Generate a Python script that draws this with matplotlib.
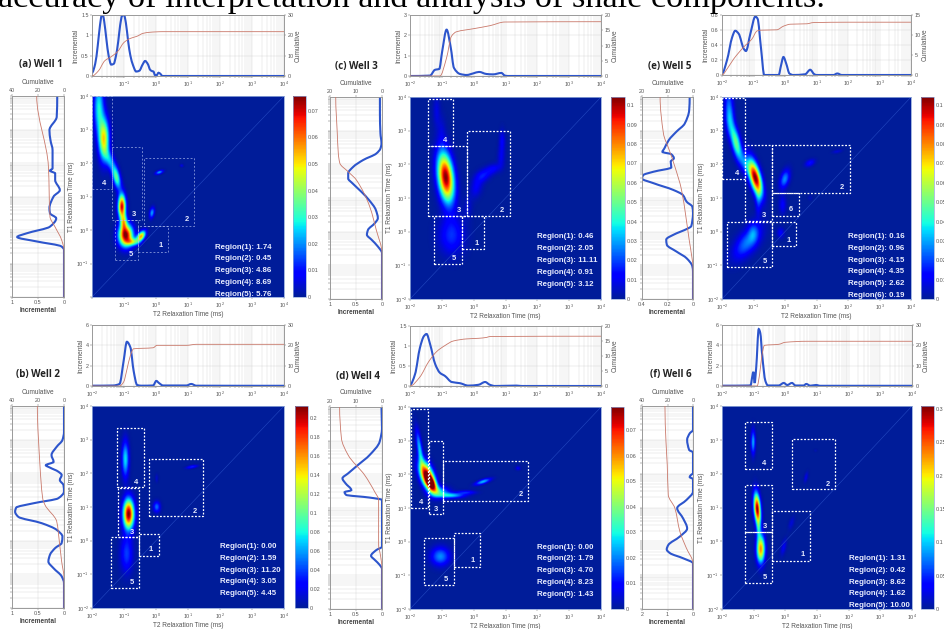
import numpy as np
import matplotlib
matplotlib.use("Agg")
import matplotlib.pyplot as plt
from matplotlib.colors import ListedColormap
from matplotlib.patches import PathPatch, Rectangle
from matplotlib.path import Path

W, H = 944, 629
plt.rcParams["font.family"] = ["Liberation Sans", "DejaVu Sans"]
plt.rcParams["mathtext.default"] = "regular"

caption = "accuracy of interpretation and analysis of shale components."
decades = [-2, -1, 0, 1, 2, 3, 4]

# ====== values ======
# top curves: log10(T2) against incremental / cumulative
a_top_x = [-2, -1.9, -1.82, -1.75, -1.7, -1.66, -1.62, -1.55, -1.48, -1.4, -1.32, -1.25, -1.18, -1.12, -1.06, -1.0, -0.94, -0.87, -0.8, -0.72, -0.62, -0.52, -0.42, -0.34, -0.26, -0.18, -0.12, -0.08, -0.03, 0.02, 0.08, 0.14, 0.2, 4]
a_top_inc = [.08, .3, .75, 1.25, 1.48, 1.5, 1.35, .9, .5, .28, .3, .5, .85, 1.25, 1.48, 1.5, 1.3, .85, .5, .27, .11, .13, .28, .37, .3, .15, .12, .11, .02, .02, .08, .05, 0, 0]
a_cum_x = [-2, -1.8, -1.6, -1.4, -1.2, -1, -0.8, -0.6, -0.4, -0.2, 0, 0.2, 4]
a_cum = [0, 2.5, 7.5, 9.5, 12, 16.5, 18.5, 19.5, 21, 21.5, 21.7, 21.8, 21.8]
c_top_x = [-2, -1.37, -1.22, -1.08, -0.99, -0.85, -0.72, -0.62, -0.43, -0.22, -0.01, 0.17, 0.4, 0.61, 0.87, 0.98, 1.08, 4]
c_top_inc = [0, .02, .3, .35, 1.2, 2.28, 1.4, .4, .1, .05, .13, .2, .1, .08, .15, .02, 0, 0]
c_cum_x = [-2, -1.06, -0.85, -0.7, -0.54, -0.01, 0.51, 0.98, 4]
c_cum = [0, 0, 6, 13, 14.5, 15.5, 16.5, 17.7, 17.8]
e_top_x = [-2, -1.84, -1.68, -1.58, -1.47, -1.31, -1.24, -1.1, -0.94, -0.87, -0.76, -0.66, -0.2, -0.13, -0.05, 0.04, 0.14, 0.26, 0.64, 0.8, 0.93, 1.0, 1.54, 1.66, 1.8, 4]
e_top_inc = [.02, .2, .5, .59, .55, .35, .32, .55, .78, .75, .35, 0, 0, .12, .24, .15, .02, 0, .01, .07, .01, 0, 0, .02, 0, 0]
e_cum_x = [-2, -1.84, -1.63, -1.31, -1.05, -0.89, -0.79, -0.26, -0.05, 0.17, 0.69, 0.9, 2, 4]
e_cum = [0, 1.5, 4, 7, 9, 11, 11.2, 11.3, 12.2, 12.7, 12.8, 13.1, 13.2, 13.2]
b_top_x = [-2, -1.34, -1.14, -1.01, -0.91, -0.8, -0.7, -0.59, -0.45, -0.09, 0.01, 0.09, 0.22, 0.95, 1.1, 1.26, 4]
b_top_inc = [.03, .05, .2, 2.5, 4.35, 3.8, 1.5, .1, .03, .05, .5, .3, .05, .05, .2, .03, .02]
b_cum_x = [-2, -1.14, -1.01, -0.91, -0.8, -0.7, -0.09, 0.03, 0.95, 1.26, 4]
b_cum = [0, 0, 2, 8, 15, 18.3, 18.8, 20, 20, 20.5, 20.5]
d_top_x = [-2, -1.84, -1.69, -1.56, -1.48, -1.37, -1.21, -1.06, -0.9, -0.69, -0.43, -0.17, 0.15, 0.36, 0.51, 0.67, 1.35, 1.5, 4]
d_top_inc = [.03, .3, .95, 1.25, 1.3, 1.05, .55, .33, .25, .1, .07, .01, .03, .1, .03, 0, .01, 0, 0]
d_cum_x = [-2, -1.69, -1.42, -1.16, -0.9, -0.64, -0.22, 0.15, 0.41, 0.51, 4]
d_cum = [0, 3, 8, 11.5, 13.5, 15, 15.7, 15.9, 16.2, 16.5, 16.6]
f_top_x = [-2, -1.1, -1.04, -1.01, -0.97, -0.92, -0.84, -0.79, -0.73, -0.63, -0.55, -0.21, -0.05, 0.06, 0.21, 0.32, 0.58, 0.66, 0.79, 0.97, 1.1, 4]
f_top_inc = [.03, .05, 1.0, 1.4, .3, 1.8, 5.6, 5.2, 3, .5, .05, .05, .3, .1, .3, .05, .05, .2, .03, .1, .02, .02]
f_cum_x = [-2, -0.89, -0.81, -0.74, -0.66, -0.21, 0, 0.68, 4]
f_cum = [0, 0, 6, 15, 20, 20.5, 21.5, 22, 22]

# left curves: log10(T1) against incremental / cumulative
a_left_y = [4, 3.38, 2.98, 2.68, 2.38, 1.99, 1.84, 1.77, 1.69, 1.49, 1.19, 1, 0.65, 0.5, 0.35, 0.1, -0.1, -0.21, -0.34, -0.49, -0.59, -2]
a_left_inc = [.13, .14, .28, .26, .22, .22, .22, .27, .17, .17, .08, .2, .28, .27, .15, .27, .72, .9, .53, .05, 0, 0]
a_side_y = [4, 1.9, 0.4, 0.1, -0.3, -0.6, -2]
a_side = [21, 12, 10.8, 7, 1.8, 0, 0]
c_left_y = [4, 3.51, 2.92, 2.62, 2.47, 2.32, 2.13, 1.93, 1.73, 1.58, 1.44, 1.19, 0.94, 0.65, 0.4, 0.25, 0.05, -0.09, -0.24, -0.44, -0.64, -2]
c_left_inc = [.04, .04, .03, .01, .03, .11, .36, .55, .65, .65, .57, .4, .25, .12, .08, .14, .27, .29, .2, .08, 0, 0]
c_side_y = [4, 2.92, 2.32, 2.03, 1.78, 1.53, 0.74, 0.05, -0.64, -2]
c_side = [17.8, 17.2, 16.8, 16.2, 13, 9.8, 4.7, 2.2, 0, 0]
e_left_y = [4, 3.61, 3.21, 2.97, 2.72, 2.47, 2.37, 2.3, 2.18, 2.08, 1.91, 1.78, 1.68, 1.58, 1.44, 1.24, 1.09, 0.89, 0.74, 0.55, 0.17, 0.05, -0.05, -0.24, -0.39, -0.59, -0.79, -1.03, -1.18, -2]
e_left_inc = [.026, .03, .065, .13, .19, .225, .24, .17, .15, .175, .17, .31, .39, .4, .31, .155, .08, .05, .005, 0, .013, .065, .13, .21, .205, .13, .05, .005, 0, 0]
e_side_y = [4, 2.92, 2.42, 1.93, 1.24, 0.45, -0.24, -0.83, -1.03, -2]
e_side = [12.9, 11.6, 9.3, 7.1, 4.5, 2.8, 1.5, .3, 0, 0]
b_left_y = [4, 3.23, 2.99, 2.79, 2.54, 2.34, 2.24, 2.17, 2.05, 1.95, 1.8, 1.65, 1.46, 1.26, 1.11, 0.98, 0.86, 0.71, 0.52, 0.32, 0.12, -0.07, -0.22, -0.42, -0.62, -0.82, -1.06, -1.26, -2]
b_left_inc = [0, 0, .03, .14, .24, .2, .35, .27, .11, .045, .08, .01, 0, .11, .59, .92, .94, .88, .43, .14, .03, .045, .17, .27, .3, .2, .045, 0, 0]
b_side_y = [4, 2.24, 1.26, 1.06, 0.57, -0.02, -0.62, -1.11, -2]
b_side = [20.5, 18.5, 16.4, 14.6, 5.6, 3.6, 1.8, 0, 0]
d_left_y = [4, 3.37, 2.97, 2.57, 2.28, 2.03, 1.88, 1.73, 1.53, 1.47, 1.39, 1.31, 1.24, -0.15, -0.25, -0.42, -0.54, -0.69, -0.81, -2]
d_left_inc = [.01, 0, .045, .24, .46, .65, .76, .7, .59, .72, .69, .24, 0, 0, .11, .21, .14, .045, 0, 0]
d_side_y = [4, 3.07, 2.57, 1.98, 1.48, 1.24, -0.1, -0.4, -0.8, -2]
d_side = [16.3, 15.6, 13, 6.7, 2.8, 1.3, 1.3, .6, 0, 0]
f_left_y = [4, 3.29, 3.19, 3, 2.7, 2.63, 2.01, 1.96, 1.9, 1.84, 1.47, 1.22, 0.98, 0.68, 0.38, 0.14, -0.11, -0.24, -0.35, -0.5, -0.65, -2]
f_left_inc = [0, 0, .13, .23, .15, 0, 0, .08, .13, 0, 0, .26, .62, .39, .23, .52, .97, 1.03, .9, .39, 0, 0]
f_side_y = [4, 2.95, 2.26, 1.37, 0.98, 0.29, -0.2, -0.65, -2]
f_side = [22, 21.2, 20.2, 19.4, 14.2, 10.3, 5.2, 0, 0]

# T2-T1 maps, estimated peaks: log T2, log T1, spread T2, spread T1, tilt, height
a_peaks = [(-.94, -.14, .11, .2, 0, .0756), (-.46, -.17, .07, .1, .5, .055), (-.72, -.34, .1, .07, 0, .03),
           (-1.06, .72, .06, .22, 0, .07), (-1, .25, .05, .15, 0, .035), (-1.23, 1.59, .07, .22, -.5, .035),
           (-1.44, 2.1, .08, .2, -.5, .02), (-1.62, 2.73, .08, .38, 0, .05), (-1.78, 3.67, .08, .5, 0, .028),
           (.11, 1.74, .06, .04, .5, .022), (-.12, .53, .04, .1, .3, .022), (.81, 1.94, .03, .03, 0, .006)]
c_peaks = [(-.87, 1.63, .13, .45, -.3, .104), (-.69, -.09, .2, .35, 0, .018), (-.17, .74, .07, .2, 0, .006),
           (.09, 1.34, .1, .2, .3, .011), (.3, 1.68, .12, .12, .3, .014), (.61, 1.88, .12, .1, .3, .012),
           (.87, 2.22, .06, .2, 0, .009), (.9, 2.72, .05, .2, 0, .011), (-1.16, 3.6, .06, .3, 0, .008), (-1, 3, .07, .3, 0, .006)]
e_peaks = [(-.94, 1.63, .11, .32, -.6, .104), (-1.55, 2.67, .1, .35, -.65, .05), (-1.79, 3.9, .07, .4, 0, .016),
           (-1.74, 3.4, .07, .3, 0, .02), (-1.26, 2.03, .08, .2, -.5, .018), (-.84, .95, .05, .3, 0, .015),
           (0, 1.58, .08, .17, .4, .028), (.8, 2.06, .08, .07, .4, .015), (1.66, 2.4, .08, .04, .4, .007),
           (-.07, .82, .06, .17, 0, .012), (.8, 1.02, .04, .05, 0, .004), (-.13, -.02, .06, .1, 0, .012),
           (-1.19, -.3, .22, .3, .6, .026), (-1, 0, .08, .2, 0, .014)]
b_peaks = [(-.85, .81, .085, .27, 0, .213), (-.95, 2.44, .055, .33, 0, .075), (-.91, -.37, .1, .35, 0, .04),
           (.03, 1.02, .055, .1, 0, .05), (1.13, 2.21, .09, .035, .5, .035), (.03, 1.87, .025, .08, 0, .012)]
d_peaks = [(-1.46, 1.98, .12, .25, -.5, .079), (-1.32, 1.73, .09, .15, -.5, .06), (-1.69, 2.77, .06, .35, -.7, .025),
           (-.69, 1.39, .2, .05, 0, .025), (-1.06, 1.49, .15, .1, 0, .025), (.3, 1.8, .12, .06, .7, .025),
           (-.22, 1.48, .15, .04, 0, .012), (1.4, 2.2, .04, .04, 0, .008), (-1.04, -.42, .15, .17, 0, .021)]
f_peaks = [(-.88, .98, .055, .28, -.3, .3), (-.77, -.21, .065, .25, 0, .23), (-.84, .38, .035, .2, 0, .07),
           (-1.01, 2.95, .035, .22, 0, .09), (.66, 1.91, .035, .1, .5, .025), (.96, 2.7, .03, .03, 0, .008),
           (.2, .56, .05, .12, .5, .02), (-.05, -.16, .05, .15, .5, .03)]

# regions: number, log T2 from/to, log T1 from/to, label position
a_boxes = [("4", -2, -1.38, 1.22, 4, -1.61, 1.39), ("3", -1.38, -.45, .3, 2.48, -.68, .47), ("2", -.36, 1.2, .13, 2.16, .95, .32),
           ("1", -.56, .37, -.66, .13, .13, -.47), ("5", -1.28, -.56, -.9, .3, -.8, -.72)]
c_boxes = [("4", -1.45, -.66, 2.55, 3.95, -.91, 2.7), ("3", -1.43, -.21, .47, 2.55, -.45, .63), ("2", -.21, 1.14, .47, 2.98, .9, .63),
           ("1", -.37, .34, -.51, .47, .1, -.34), ("5", -1.24, -.37, -.96, .47, -.61, -.79)]
e_boxes = [("4", -2, -1.27, 1.55, 3.98, -1.52, 1.73), ("3", -1.27, -.41, .32, 2.57, -.66, .47), ("2", -.41, 2.07, 1.16, 2.57, 1.82, 1.32),
           ("6", -.41, .46, .48, 1.16, .2, .67), ("1", -.41, .35, -.44, .3, .12, -.26), ("5", -1.84, -.41, -1.06, .3, -.64, -.9)]
b_boxes = [("4", -1.22, -.375, 1.58, 3.36, -.61, 1.73), ("3", -1.18, -.52, .1, 1.55, -.76, .24), ("2", -.23, 1.46, .72, 2.43, 1.21, .88),
           ("1", -.52, .09, -.46, .21, -.16, -.27), ("5", -1.41, -.52, -1.41, .1, -.76, -1.23)]
d_boxes = [("4", -1.98, -1.42, 1.01, 3.95, -1.64, 1.16), ("3", -1.4, -.96, .81, 2.99, -1.2, .97), ("2", -.96, 1.72, 1.22, 2.4, 1.48, 1.39),
           ("1", -.62, .2, -.76, .27, -.04, -.57), ("5", -1.55, -.62, -1.29, .1, -.86, -1.11)]
f_boxes = [("4", -1.27, -.41, 2.14, 3.52, -.66, 2.31), ("3", -1.27, -.41, .29, 1.67, -.66, .45), ("2", .2, 1.58, 1.55, 3.03, 1.34, 1.69),
           ("1", -.41, .78, -.58, .91, .54, -.38), ("5", -1.27, -.41, -1.23, .29, -.66, -1.06)]

a_regions = ["1.74", "0.45", "4.86", "8.69", "5.76"]
c_regions = ["0.46", "2.05", "11.11", "0.91", "3.12"]
e_regions = ["0.16", "0.96", "4.15", "4.35", "2.62", "0.19"]
b_regions = ["0.00", "1.59", "11.20", "3.05", "4.45"]
d_regions = ["0.00", "1.79", "4.70", "8.23", "1.43"]
f_regions = ["1.31", "0.42", "8.62", "1.62", "10.00"]

# ====== layout: pixel boxes and axis settings per panel ======
panels = [
    dict(title="(a) Well 1", tx=41, ty=65, heat=(92, 96, 284, 297), cb=(293, 306), top=(15, 76), left=(12, 64),
         inc_top=(1.5, [0, .5, 1, 1.5], ["0", "0.5", "1", "1.5"]), cum_top=(30, [0, 10, 20, 30]),
         inc_left=(1, [1, .5, 0], ["1", "0.5", "0"]), cum_left=(40, [40, 20, 0]),
         vmax=.0756, cticks=[0, .01, .02, .03, .04, .05, .06, .07], thin=True, skip=True, text_x=1.85, text_y=-.51,
         top_x=a_top_x, top_inc=a_top_inc, cum_x=a_cum_x, cum=a_cum, left_y=a_left_y, left_inc=a_left_inc,
         side_y=a_side_y, side=a_side, peaks=a_peaks, boxes=a_boxes, regions=a_regions),
    dict(title="(c) Well 3", tx=356, ty=67, heat=(410, 97, 601, 299), cb=(611, 625), top=(15, 76), left=(330, 382),
         inc_top=(3, [0, 1, 2, 3], ["0", "1", "2", "3"]), cum_top=(20, [0, 5, 10, 15, 20]),
         inc_left=(1, [1, .5, 0], ["1", "0.5", "0"]), cum_left=(20, [20, 10, 0]),
         vmax=.1043, cticks=[0, .01, .02, .03, .04, .05, .06, .07, .08, .09, .1], thin=False, skip=False, text_x=2, text_y=-.15,
         top_x=c_top_x, top_inc=c_top_inc, cum_x=c_cum_x, cum=c_cum, left_y=c_left_y, left_inc=c_left_inc,
         side_y=c_side_y, side=c_side, peaks=c_peaks, boxes=c_boxes, regions=c_regions),
    dict(title="(e) Well 5", tx=670, ty=66, heat=(722, 97, 911, 299), cb=(921, 934), top=(15, 75), left=(642, 693),
         inc_top=(.8, [0, .2, .4, .6, .8], ["0", "0.2", "0.4", "0.6", "0.8"]), cum_top=(15, [0, 5, 10, 15]),
         inc_left=(.4, [.4, .2, 0], ["0.4", "0.2", "0"]), cum_left=(20, [20, 10, 0]),
         vmax=.1043, cticks=[0, .01, .02, .03, .04, .05, .06, .07, .08, .09, .1], thin=False, skip=False, text_x=2, text_y=-.14,
         top_x=e_top_x, top_inc=e_top_inc, cum_x=e_cum_x, cum=e_cum, left_y=e_left_y, left_inc=e_left_inc,
         side_y=e_side_y, side=e_side, peaks=e_peaks, boxes=e_boxes, regions=e_regions),
    dict(title="(b) Well 2", tx=38, ty=375, heat=(92, 406, 284, 608), cb=(295, 308), top=(325, 386), left=(12, 64),
         inc_top=(6, [0, 2, 4, 6], ["0", "2", "4", "6"]), cum_top=(30, [0, 10, 20, 30]),
         inc_left=(1, [1, .5, 0], ["1", "0.5", "0"]), cum_left=(40, [40, 20, 0]),
         vmax=.213, cticks=[0, .02, .04, .06, .08, .1, .12, .14, .16, .18, .2], thin=False, skip=False, text_x=2, text_y=-.17,
         top_x=b_top_x, top_inc=b_top_inc, cum_x=b_cum_x, cum=b_cum, left_y=b_left_y, left_inc=b_left_inc,
         side_y=b_side_y, side=b_side, peaks=b_peaks, boxes=b_boxes, regions=b_regions),
    dict(title="(d) Well 4", tx=358, ty=376, heat=(410, 407, 601, 609), cb=(611, 624), top=(326, 386), left=(330, 382),
         inc_top=(1.5, [0, .5, 1, 1.5], ["0", "0.5", "1", "1.5"]), cum_top=(20, [0, 5, 10, 15, 20]),
         inc_left=(1, [1, .5, 0], ["1", "0.5", "0"]), cum_left=(20, [20, 10, 0]),
         vmax=.079, cticks=[0, .01, .02, .03, .04, .05, .06, .07], thin=False, skip=False, text_x=2, text_y=-.16,
         top_x=d_top_x, top_inc=d_top_inc, cum_x=d_cum_x, cum=d_cum, left_y=d_left_y, left_inc=d_left_inc,
         side_y=d_side_y, side=d_side, peaks=d_peaks, boxes=d_boxes, regions=d_regions),
    dict(title="(f) Well 6", tx=671, ty=375, heat=(722, 406, 912, 609), cb=(921, 934), top=(325, 386), left=(642, 693),
         inc_top=(6, [0, 2, 4, 6], ["0", "2", "4", "6"]), cum_top=(30, [0, 10, 20, 30]),
         inc_left=(2, [2, 1, 0], ["2", "1", "0"]), cum_left=(40, [40, 20, 0]),
         vmax=.3045, cticks=[0, .05, .1, .15, .2, .25, .3], thin=False, skip=False, text_x=2, text_y=-.5,
         top_x=f_top_x, top_inc=f_top_inc, cum_x=f_cum_x, cum=f_cum, left_y=f_left_y, left_inc=f_left_inc,
         side_y=f_side_y, side=f_side, peaks=f_peaks, boxes=f_boxes, regions=f_regions),
]

INC_BLUE = "#2d55cc"
CUM_RED = "#c9786a"
TXT = "#555555"
FRAME = "#9a9a9a"
TICK_FS = 3.9
LABEL_FS = 4.7
SPREAD_T2 = 1.35
SPREAD_T1 = 1.1

# jet, with the low end shifted to the lighter blue of the reference
map_colors = plt.get_cmap("jet")(np.linspace(0, 1, 256))
low_end = np.linspace(0, 1, 28)[:, None]
map_colors[:28, :3] = (1 - low_end) * np.array([0.0, 0.11, 0.6]) + low_end * np.array([0.0, 0.0, 1.0])
heat_cmap = ListedColormap(map_colors)


def make_axes(fig, x0, y0, x1, y1):
    return fig.add_axes([x0 / W, 1 - y1 / H, (x1 - x0) / W, (y1 - y0) / H])


def style(ax):
    for s in ax.spines.values():
        s.set_color(FRAME)
        s.set_linewidth(0.6)
    ax.tick_params(which="both", length=1.2, width=0.3, labelsize=TICK_FS, colors=TXT, pad=1.2)


def log_labels(skip):
    return ["" if skip and k == -2 else f"$10^{{{k}}}$" for k in decades]


def curve_path(t, v, swap):
    # smooth bezier through the read points only, t is the log10 axis
    t = np.array(t, float)
    v = np.array(v, float)
    h = np.diff(t)
    d = np.diff(v) / h
    m = np.zeros(len(t))
    for i in range(1, len(t) - 1):
        if d[i - 1] * d[i] > 0:
            m[i] = 2 * d[i - 1] * d[i] / (d[i - 1] + d[i])
    verts = [(t[0], v[0])]
    codes = [Path.MOVETO]
    for i in range(len(h)):
        verts.append((t[i] + h[i] / 3, v[i] + m[i] * h[i] / 3))
        verts.append((t[i + 1] - h[i] / 3, v[i + 1] - m[i + 1] * h[i] / 3))
        verts.append((t[i + 1], v[i + 1]))
        codes += [Path.CURVE4] * 3
    verts = np.array(verts)
    if swap:
        return Path(np.column_stack([verts[:, 1], 10.0 ** verts[:, 0]]), codes)
    return Path(np.column_stack([10.0 ** verts[:, 0], verts[:, 1]]), codes)


def add_curve(ax, t, v, swap, color, lw):
    ax.add_patch(PathPatch(curve_path(t, v, swap), fill=False, ec=color, lw=lw, zorder=3))


def t2_map(peaks, size=420):
    axis = np.linspace(-2, 4, size)
    gx, gy = np.meshgrid(axis, axis)
    z = np.zeros_like(gx)
    for x, y, sx, sy, rho, amp in peaks:
        u = (gx - x) / (sx * SPREAD_T2)
        v = (gy - y) / (sy * SPREAD_T1)
        z += amp * np.exp(-(u * u - 2 * rho * u * v + v * v) / (2 * (1 - rho * rho)))
    return 10.0 ** axis, 10.0 ** axis, z


def draw_top(fig, p):
    x0, _, x1, _ = p["heat"]
    ax = make_axes(fig, x0, p["top"][0], x1, p["top"][1])
    ax.set_xscale("log")
    ax.set_xlim(1e-2, 1e4)
    ymax, yticks, ylabels = p["inc_top"]
    ax.set_ylim(0, ymax)
    ax.set_yticks(yticks, ylabels)
    ax.set_xticks([10.0 ** k for k in decades], log_labels(p["skip"]))
    ax.grid(which="both", axis="x", color="#d4d4d4", lw=0.3)
    ax.grid(which="major", axis="y", color="#d4d4d4", lw=0.3)
    add_curve(ax, p["top_x"], p["top_inc"], False, INC_BLUE, 1.5)
    ax.set_ylabel("Incremental", fontsize=LABEL_FS, color=TXT, labelpad=1)
    style(ax)
    ax2 = ax.twinx()
    cmax, cticks = p["cum_top"]
    ax2.set_ylim(0, cmax)
    ax2.set_yticks(cticks)
    add_curve(ax2, p["cum_x"], p["cum"], False, CUM_RED, 0.6)
    ax2.set_ylabel("Cumulative", fontsize=LABEL_FS, color=TXT, labelpad=1)
    style(ax2)


def draw_left(fig, p):
    _, y0, _, y1 = p["heat"]
    ax = make_axes(fig, p["left"][0], y0, p["left"][1], y1)
    ax.set_yscale("log")
    ax.set_ylim(1e-2, 1e4)
    xmax, xticks, xlabels = p["inc_left"]
    ax.set_xlim(xmax, 0)
    ax.set_xticks(xticks, xlabels)
    ax.set_yticks([10.0 ** k for k in decades], [""] * len(decades))
    ax.grid(which="both", axis="y", color="#d4d4d4", lw=0.3)
    ax.grid(which="major", axis="x", color="#d4d4d4", lw=0.3)
    add_curve(ax, p["left_y"], p["left_inc"], True, INC_BLUE, 1.5)
    ax.set_xlabel("Incremental", fontsize=LABEL_FS, fontweight="bold", color="#444444", labelpad=1)
    style(ax)
    ax2 = ax.twiny()
    cmax, cticks = p["cum_left"]
    ax2.set_xlim(cmax, 0)
    ax2.set_xticks(cticks)
    add_curve(ax2, p["side_y"], p["side"], True, CUM_RED, 0.6)
    ax2.set_xlabel("Cumulative", fontsize=LABEL_FS, color=TXT, labelpad=3)
    style(ax2)


def draw_heat(fig, p):
    x0, y0, x1, y1 = p["heat"]
    ax = make_axes(fig, x0, y0, x1, y1)
    t2, t1, z = t2_map(p["peaks"])
    mesh = ax.pcolormesh(t2, t1, z, cmap=heat_cmap, vmin=0, vmax=p["vmax"], shading="gouraud", rasterized=True)
    ax.set_xscale("log")
    ax.set_yscale("log")
    ax.set_xlim(1e-2, 1e4)
    ax.set_ylim(1e-2, 1e4)
    ticks = [10.0 ** k for k in decades]
    ax.set_xticks(ticks, log_labels(p["skip"]))
    ax.set_yticks(ticks, log_labels(p["skip"]))
    ax.minorticks_off()
    ax.plot([1e-2, 1e4], [1e-2, 1e4], color="#2348c0", lw=0.4)
    ax.set_xlabel("T2 Relaxation Time (ms)", fontsize=LABEL_FS, color=TXT, labelpad=1)
    ax.set_ylabel("T1 Relaxation Time (ms)", fontsize=LABEL_FS, color=TXT, labelpad=1)
    style(ax)
    for s in ax.spines.values():
        s.set_color("#8fa6d8")

    edge, lw, ls = ("#b4c2f2", 0.45, (0, (3, 3))) if p["thin"] else ("white", 0.9, (0, (1.5, 1.3)))
    for name, bx0, bx1, by0, by1, lx, ly in p["boxes"]:
        ax.add_patch(Rectangle((10.0 ** bx0, 10.0 ** by0), 10.0 ** bx1 - 10.0 ** bx0, 10.0 ** by1 - 10.0 ** by0,
                               fill=False, ec=edge, lw=lw, ls=ls, zorder=4))
        ax.text(10.0 ** lx, 10.0 ** ly, name, color="#e8ecff", fontsize=5.4, fontweight="bold",
                ha="center", va="center", zorder=5)
    for i, val in enumerate(p["regions"]):
        ax.text(10.0 ** p["text_x"], 10.0 ** (p["text_y"] - 0.352 * i), f"Region({i + 1}): {val}", color="#e8ecff",
                fontsize=5.7, fontweight="bold", ha="left", va="center", clip_on=True, zorder=5)

    cax = make_axes(fig, p["cb"][0], y0, p["cb"][1], y1)
    bar = fig.colorbar(mesh, cax=cax)
    bar.set_ticks(p["cticks"], labels=[f"{v:g}" for v in p["cticks"]])
    bar.outline.set_edgecolor("#8fa6d8")
    bar.outline.set_linewidth(0.5)
    cax.tick_params(length=0, labelsize=TICK_FS, colors=TXT, pad=1.5)


fig = plt.figure(figsize=(W / 100, H / 100), dpi=100)

for p in panels:
    draw_top(fig, p)
    draw_left(fig, p)
    draw_heat(fig, p)
    fig.text(p["tx"] / W, 1 - p["ty"] / H, p["title"], family=["Open Sans", "DejaVu Sans"], fontsize=7,
             fontweight="bold", color="#222222", ha="center", va="center")

fig.text(-2 / W, 1 - 7 / H, caption, family=["Liberation Serif"], fontsize=24.7, color="black", ha="left", va="baseline")

fig.savefig("out.png", dpi=100)
